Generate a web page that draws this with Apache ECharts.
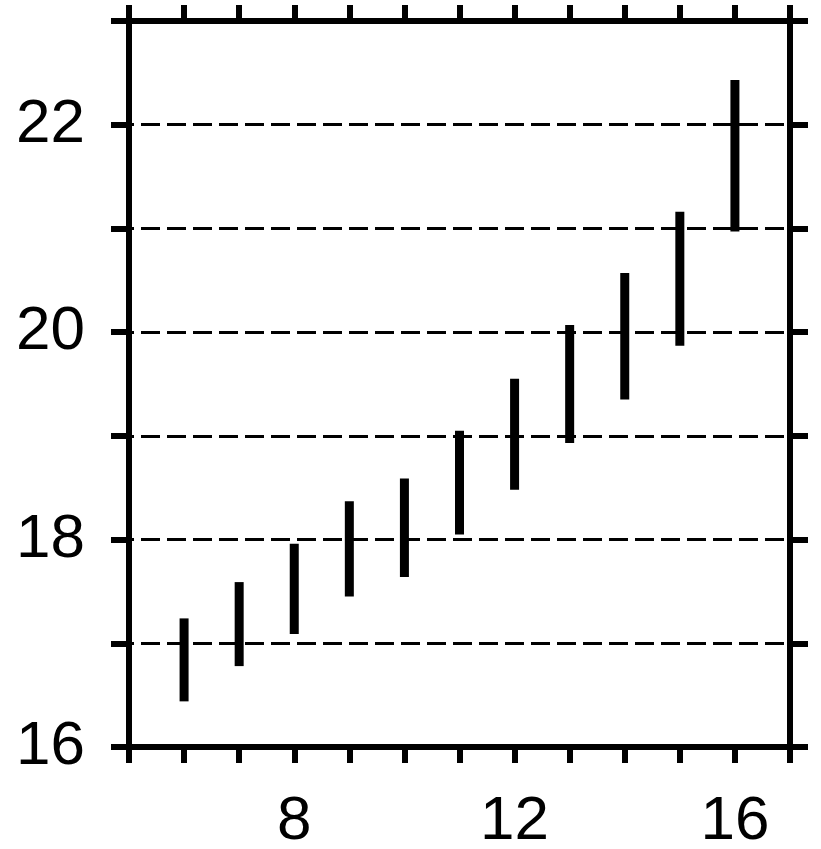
<!DOCTYPE html>
<html>
<head>
<meta charset="utf-8">
<script src="https://cdn.jsdelivr.net/npm/echarts@6/dist/echarts.min.js"></script>
<style>
html,body{margin:0;padding:0;background:#fff;}
#chart{width:821px;height:849px;}
</style>
</head>
<body>
<div id="chart"></div>
<script>
var xValues = [6, 7, 8, 9, 10, 11, 12, 13, 14, 15, 16];
var lowValues = [16.44, 16.78, 17.09, 17.45, 17.64, 18.05, 18.48, 18.93, 19.35, 19.87, 20.97];
var highValues = [17.24, 17.59, 17.96, 18.37, 18.59, 19.05, 19.55, 20.07, 20.57, 21.16, 22.43];
var xTickLabels = [8, 12, 16];
var yTickLabels = [16, 18, 20, 22];

var data = xValues.map(function (x, i) { return [x, lowValues[i], highValues[i]]; });

var chart = echarts.init(document.getElementById('chart'), null, {renderer: 'canvas'});
var font = 'Liberation Sans, Arial, sans-serif';
var lineW = 6;

function xAxisCfg(pos, showLabels) {
  return {
    type: 'value', position: pos, min: 5, max: 17, interval: 1,
    axisLine: {show: true, onZero: false, lineStyle: {color: '#000', width: lineW}},
    axisTick: {show: true, inside: false, length: 16, lineStyle: {color: '#000', width: lineW}},
    axisLabel: {
      show: showLabels, margin: 44, color: '#000', fontSize: 62, fontFamily: font,
      formatter: function (v) { return xTickLabels.indexOf(v) >= 0 ? String(v) : ''; }
    },
    splitLine: {show: false}
  };
}
function yAxisCfg(pos, showLabels, split) {
  return {
    type: 'value', position: pos, min: 16, max: 23, interval: 1,
    axisLine: {show: true, onZero: false, lineStyle: {color: '#000', width: lineW}},
    axisTick: {show: true, inside: false, length: 18, lineStyle: {color: '#000', width: lineW}},
    axisLabel: {
      show: showLabels, margin: 44, color: '#000', fontSize: 62, fontFamily: font,
      formatter: function (v) { return yTickLabels.indexOf(v) >= 0 ? String(v) : ''; }
    },
    splitLine: {show: split, lineStyle: {color: '#000', width: 3, type: [19, 7], dashOffset: 14}}
  };
}

chart.setOption({
  animation: false,
  backgroundColor: '#fff',
  grid: {left: 129, right: 31, top: 21, bottom: 102, containLabel: false, outerBoundsMode: 'none'},
  xAxis: [xAxisCfg('bottom', true), xAxisCfg('top', false)],
  yAxis: [yAxisCfg('left', true, true), yAxisCfg('right', false, false)],
  series: [{
    type: 'custom',
    xAxisIndex: 0, yAxisIndex: 0,
    encode: {x: 0, y: [1, 2]},
    data: data,
    renderItem: function (params, api) {
      var x = api.value(0), lo = api.value(1), hi = api.value(2);
      var pTop = api.coord([x, hi]);
      var pBot = api.coord([x, lo]);
      var w = 9;
      return {
        type: 'rect',
        shape: {x: pTop[0] - w / 2, y: pTop[1], width: w, height: pBot[1] - pTop[1]},
        style: {fill: '#000'}
      };
    }
  }]
});
</script>
</body>
</html>
